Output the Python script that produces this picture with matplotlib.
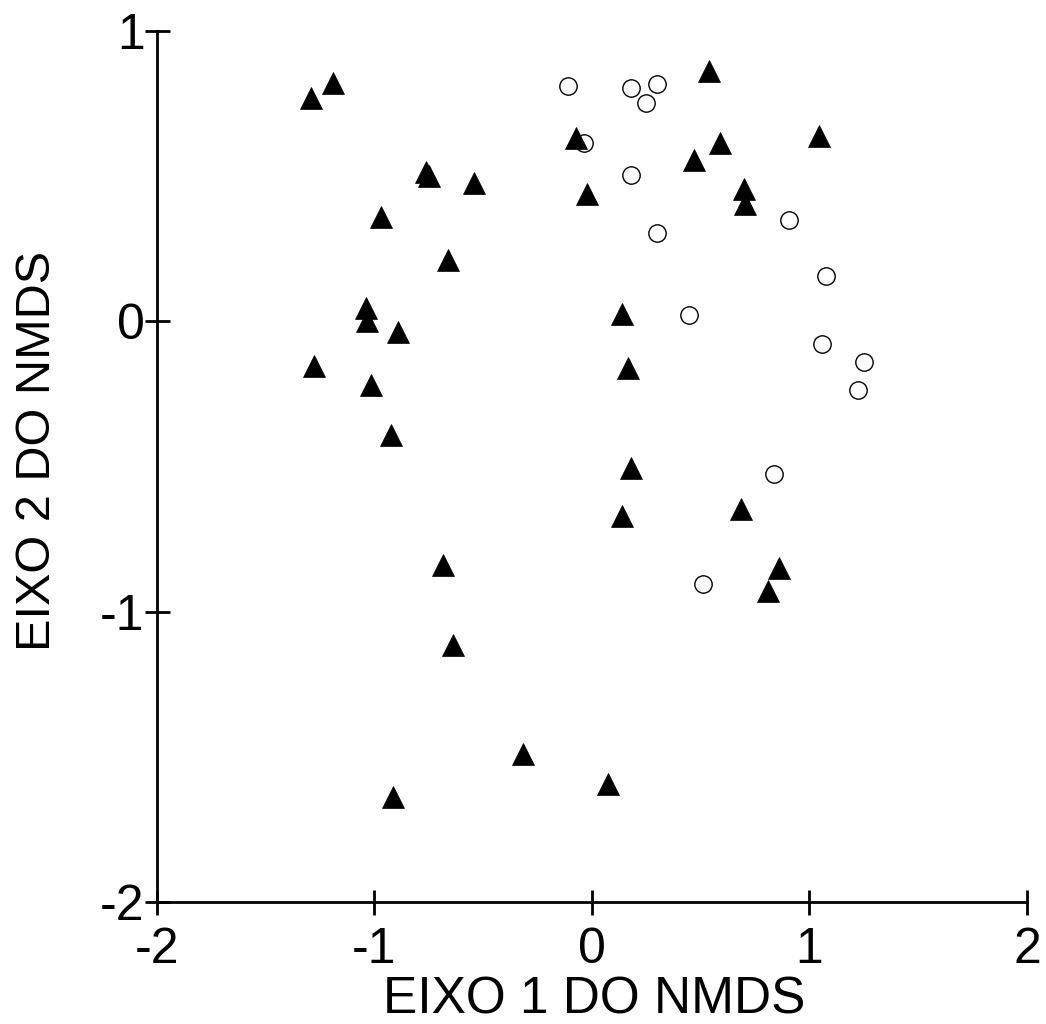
import matplotlib
matplotlib.use("Agg")
import matplotlib.pyplot as plt

plt.rcParams['font.family'] = ['Liberation Sans', 'DejaVu Sans']

# NMDS scores, group 1 (filled triangles)
tri_x = [-1.292, -1.190, -0.763, -0.750, -0.542, -0.970, -0.661, -1.039, -1.034,
         -0.891, -1.278, -1.016, -0.924, -0.684, -0.638, -0.316, -0.914, 0.075,
         0.139, 0.167, 0.180, 0.139, 0.686, 0.861, 0.811, 0.539, -0.073, -0.022,
         0.470, 0.590, 1.045, 0.700, 0.705]
tri_y = [0.769, 0.821, 0.514, 0.500, 0.477, 0.359, 0.211, 0.046, 0.001,
         -0.037, -0.154, -0.219, -0.392, -0.839, -1.115, -1.491, -1.639, -1.594,
         0.025, -0.161, -0.505, -0.671, -0.647, -0.850, -0.929, 0.862, 0.631, 0.439,
         0.556, 0.614, 0.638, 0.456, 0.404]

# NMDS scores, group 2 (open circles)
circ_x = [-0.110, 0.180, 0.300, 0.249, -0.036, 0.180, 0.300, 0.907, 1.077, 0.447,
          1.059, 1.252, 1.224, 0.838, 0.511]
circ_y = [0.811, 0.804, 0.817, 0.752, 0.614, 0.504, 0.304, 0.349, 0.156, 0.022,
          -0.078, -0.140, -0.237, -0.526, -0.905]

x_ticks = [-2, -1, 0, 1, 2]
y_ticks = [-2, -1, 0, 1]

fig = plt.figure(figsize=(10.46, 10.24), dpi=100)
ax = fig.add_axes([0.1501, 0.1191, 0.8317, 0.8506])

ax.plot(circ_x, circ_y, linestyle='none', marker='o', markersize=12.5,
        markerfacecolor='white', markeredgecolor='black', markeredgewidth=1.0)
ax.plot(tri_x, tri_y, linestyle='none', marker='^', markersize=16.5,
        markerfacecolor='black', markeredgecolor='black', markeredgewidth=0.5)

ax.set_xlim(-2, 2)
ax.set_ylim(-2, 1)
ax.set_xticks(x_ticks)
ax.set_yticks(y_ticks)
ax.set_xticklabels([str(t) for t in x_ticks])
ax.set_yticklabels([str(t) for t in y_ticks])

# only left and bottom axes, ticks crossing the spines
for side in ('top', 'right'):
    ax.spines[side].set_visible(False)
for side in ('left', 'bottom'):
    ax.spines[side].set_linewidth(2)
ax.tick_params(direction='inout', length=18, width=2, labelsize=36)
ax.tick_params(axis='x', pad=9)
ax.tick_params(axis='y', pad=0)

ax.set_xlabel('EIXO 1 DO NMDS', fontsize=37, va='baseline')
ax.xaxis.set_label_coords(0.503, -0.128)
ax.set_ylabel('EIXO 2 DO NMDS', fontsize=35, va='baseline')
ax.yaxis.set_label_coords(-0.123, 0.518)

fig.savefig('out.png', dpi=100)
